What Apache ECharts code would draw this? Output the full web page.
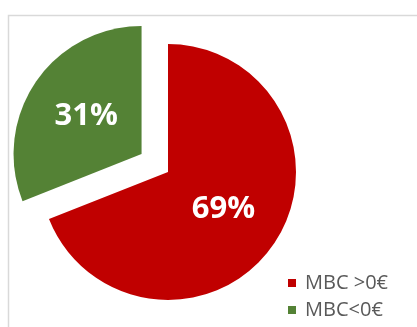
<!DOCTYPE html>
<html>
<head>
<meta charset="utf-8">
<script src="https://cdn.jsdelivr.net/npm/echarts@6/dist/echarts.min.js"></script>
<style>
  html, body { margin: 0; padding: 0; background: #fff; }
  #chart { width: 417px; height: 327px; }
</style>
</head>
<body>
<div id="chart"></div>
<script>
// Share of MBC values above and below zero
const categories = ['MBC >0€', 'MBC<0€'];
const shares = [69, 31];
const colors = ['#C00000', '#548235'];

const chart = echarts.init(document.getElementById('chart'), null, { renderer: 'canvas' });

const pieData = categories.map((name, i) => ({
  name: name,
  value: shares[i],
  selected: i === 1,
  itemStyle: { color: colors[i] }
}));

chart.setOption({
  animation: false,
  backgroundColor: '#ffffff',
  graphic: [{
    type: 'rect',
    shape: { x: 8.5, y: 15.5, width: 600, height: 500 },
    style: { fill: 'none', stroke: '#d9d9d9', lineWidth: 1.5 },
    silent: true
  }],
  legend: {
    orient: 'vertical',
    left: 283,
    top: 268,
    icon: 'rect',
    itemWidth: 8,
    itemHeight: 8,
    itemGap: 7,
    selectedMode: false,
    textStyle: {
      color: '#595959',
      fontFamily: 'Open Sans',
      fontSize: 20,
      lineHeight: 20,
      padding: [0, 0, 0, 4]
    },
    data: categories
  },
  series: [{
    type: 'pie',
    center: [168, 172],
    radius: 128,
    startAngle: 90,
    clockwise: true,
    selectedMode: 'single',
    selectedOffset: 32,
    avoidLabelOverlap: false,
    label: {
      show: true,
      position: 'inside',
      formatter: '{c}%',
      color: '#ffffff',
      fontFamily: 'Open Sans',
      fontWeight: 'bold',
      fontSize: 31
    },
    labelLine: { show: false },
    emphasis: { disabled: true },
    data: pieData
  }]
});
</script>
</body>
</html>
